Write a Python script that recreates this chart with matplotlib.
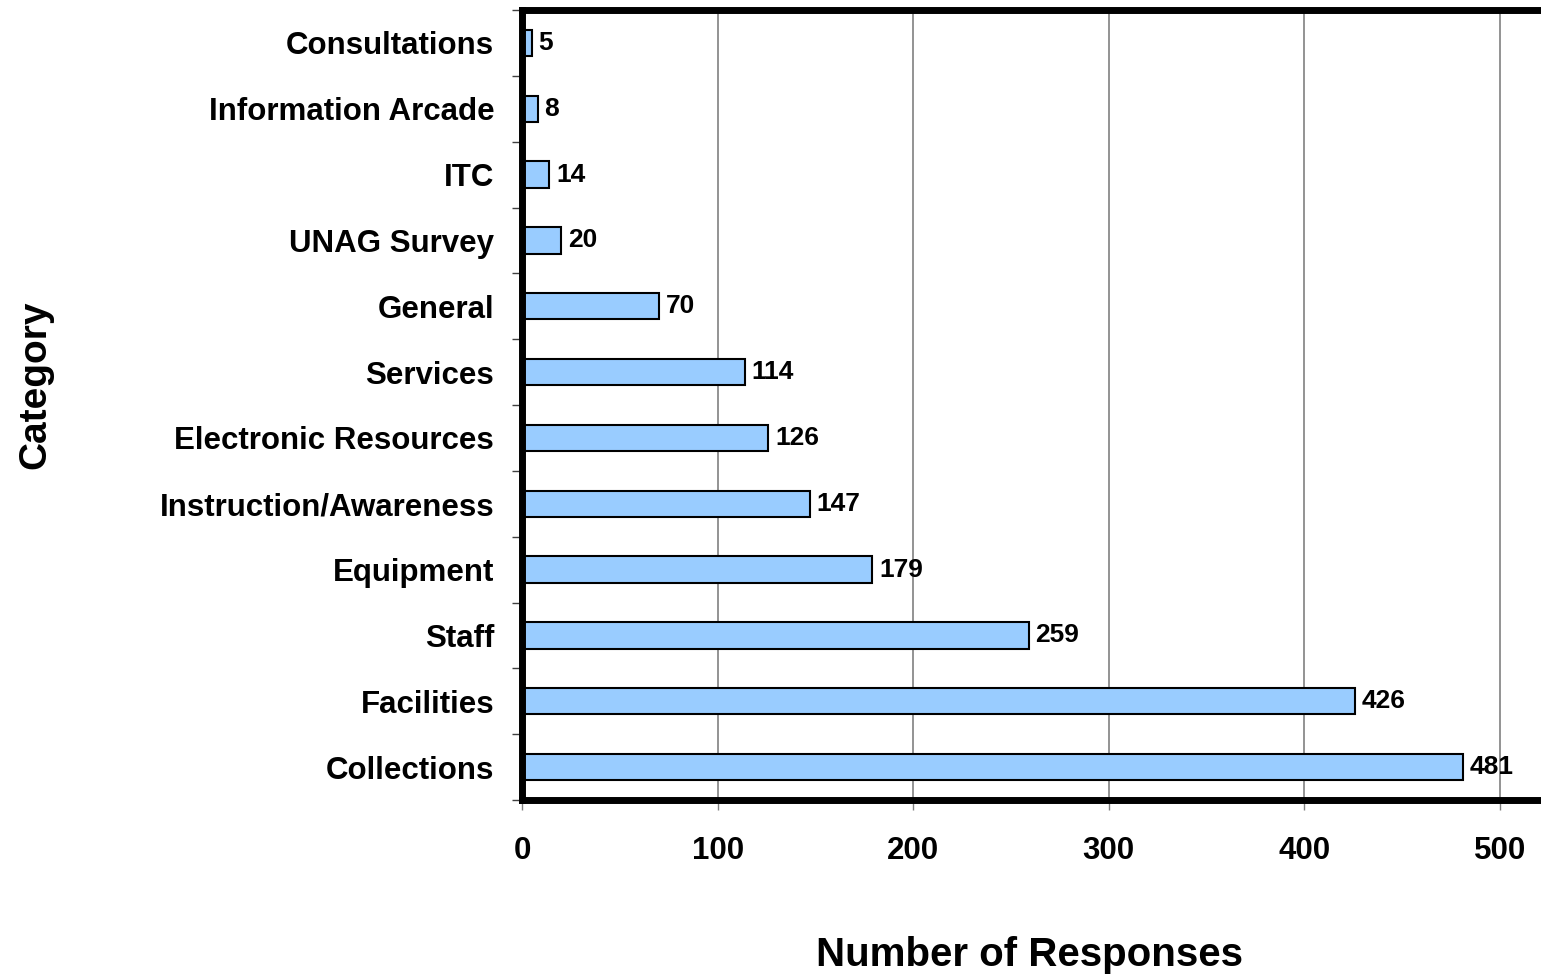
import matplotlib
matplotlib.use('Agg')
import matplotlib.pyplot as plt
import numpy as np

categories = ['Collections', 'Facilities', 'Staff', 'Equipment', 'Instruction/Awareness',
              'Electronic Resources', 'Services', 'General', 'UNAG Survey', 'ITC',
              'Information Arcade', 'Consultations']
responses = [481, 426, 259, 179, 147, 126, 114, 70, 20, 14, 8, 5]
xticks = [0, 100, 200, 300, 400, 500]

plt.rcParams['font.family'] = ['Liberation Sans', 'DejaVu Sans']
plt.rcParams['font.weight'] = 'bold'

fig = plt.figure(figsize=(15.41, 9.77), dpi=100)
ax = fig.add_axes([522 / 1541, 1 - 800 / 977, 1 - 522 / 1541, (800 - 10) / 977])

y = np.arange(len(categories))
bars = ax.barh(y, responses, height=0.4, color='#99CCFF', edgecolor='black', linewidth=1.5, zorder=3)
for yi, v in zip(y, responses):
    ax.text(v + 3.5, yi, str(v), va='center', ha='left', fontsize=19, fontweight='bold', zorder=4)

ax.set_xlim(0, (1541 - 522) / 1.956)
ax.set_ylim(-0.5, len(categories) - 0.5)

ax.set_xticks(xticks)
ax.set_xticklabels([str(t) for t in xticks], fontsize=22.5, fontweight='bold')
ax.tick_params(axis='x', direction='out', length=7, width=1, color='#808080', pad=19)
ax.grid(axis='x', color='#808080', linewidth=1.2, zorder=0)

ax.set_yticks(np.arange(len(categories) + 1) - 0.5)
ax.set_yticklabels([])
ax.set_yticks(y, minor=True)
ax.set_yticklabels(categories, minor=True, fontsize=22.5, fontweight='bold')
ax.tick_params(axis='y', which='major', direction='out', length=7, width=1, color='#404040')
ax.tick_params(axis='y', which='minor', length=0, pad=20)

for side in ['left', 'top', 'bottom']:
    ax.spines[side].set_linewidth(5)
    ax.spines[side].set_zorder(5)
ax.spines['right'].set_visible(False)

fig.text(1030 / 1541, 1 - 955 / 977, 'Number of Responses', ha='center', va='center',
         fontsize=29, fontweight='bold')
fig.text(35 / 1541, 1 - 385 / 977, 'Category', ha='center', va='center', rotation=90,
         fontsize=28, fontweight='bold')

fig.savefig('out.png', dpi=100)
